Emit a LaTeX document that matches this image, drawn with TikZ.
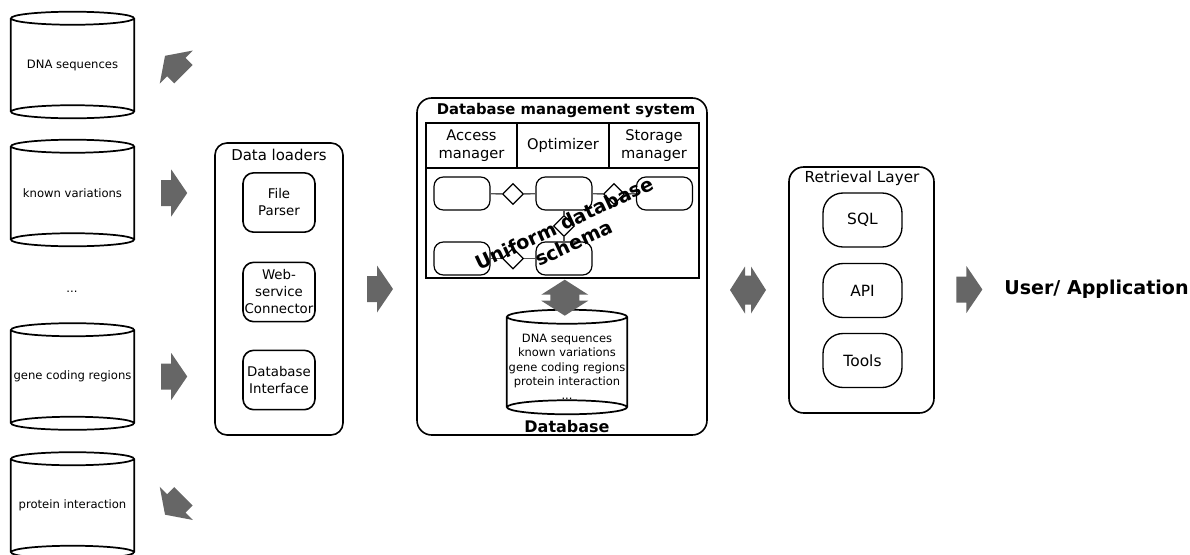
\documentclass[tikz,border=0pt]{standalone}
\usepackage{fontspec}
\setmainfont{DejaVu Sans}
\usepackage{tikz}
\usetikzlibrary{shapes.geometric, calc, positioning}

\definecolor{arrowgray}{HTML}{666666}
\definecolor{linkgray}{HTML}{555555}

% drum outline round a node: both ellipses and the two sides
\newcommand{\drum}[3]{%
	\draw[cylline] (#1.north) ellipse [x radius=#2, y radius=#3]
	(#1.south) ellipse [x radius=#2, y radius=#3]
	(#1.north west) -- (#1.south west)
	(#1.north east) -- (#1.south east);}

\begin{document}
\begin{tikzpicture}[
		x=0.75pt, y=-0.75pt, % one unit = one pixel of the sketch
		cylbody/.style={
				inner sep=0pt,
				minimum width=92.25pt,
				minimum height=69.75pt,
				align=center,
				font=\fontsize{8.7}{10}\selectfont
			},
		cylline/.style={line width=1.3pt},
		group/.style={
				draw,
				line width=1.2pt,
				rounded corners=9pt
			},
		loader/.style={
				draw,
				line width=1.2pt,
				rounded corners=8pt,
				minimum width=54pt,
				minimum height=44.5pt,
				inner sep=1pt,
				align=center,
				font=\fontsize{10}{12.75}\selectfont
			},
		cell/.style={
				draw,
				line width=1pt,
				minimum height=33.75pt,
				inner sep=0pt,
				align=center,
				font=\fontsize{11}{13.5}\selectfont
			},
		entity/.style={
				draw,
				line width=0.9pt,
				rounded corners=7pt,
				minimum width=42pt,
				minimum height=24.75pt
			},
		relation/.style={
				draw,
				diamond,
				fill=white,
				line width=0.9pt,
				minimum size=15.75pt,
				inner sep=0pt
			},
		link/.style={draw=linkgray, line width=1pt},
		query/.style={
				draw,
				line width=1pt,
				rounded corners=15pt,
				minimum width=59.25pt,
				minimum height=40.5pt,
				font=\fontsize{11.6}{14}\selectfont
			},
		fatarrow/.pic={
				\fill[arrowgray] (-13,-13) -- (-3,-13) -- (-3,-23.5) -- (13,0)
				-- (-3,23.5) -- (-3,13) -- (-13,13) -- cycle;
			},
		twoway/.pic={
				\fill[arrowgray] (-18,0) -- (-3,-23.5) -- (-3,-14.5) -- (3,-14.5)
				-- (3,-23.5) -- (18,0) -- (3,23.5) -- (3,14.5) -- (-3,14.5)
				-- (-3,23.5) -- cycle;
			}
	]
	\useasboundingbox (0,0) rectangle (1190,554);

	% Sources
	\node[cylbody] (dna) at (72.5,65) {DNA sequences};
	\node[cylbody] (var) at (72.5,193) {known variations};
	\node[font=\fontsize{8.7}{10}\selectfont] (more) at (72,292) {...};
	\node[cylbody] (gene) at (72.5,376.5) {gene coding regions};
	\node[cylbody] (prot) at (72.5,505.5) {protein interaction};
	\drum{dna}{46.1pt}{4.9pt}
	\drum{var}{46.1pt}{4.9pt}
	\drum{gene}{46.1pt}{4.9pt}
	\drum{prot}{46.1pt}{4.9pt}

	% Data loaders
	\node[group, minimum width=96pt, minimum height=219pt] (loaders) at (279,289) {};
	\node[font=\fontsize{11.2}{13}\selectfont] (loadtitle) at (279,155) {Data loaders};
	\node[loader] (parser) at (279,202.5) {File\\Parser};
	\node[loader] (websvc) at (279,292) {Web-\\service\\Connector};
	\node[loader] (dbiface) at (279,380) {Database\\Interface};

	% Database management system
	\node[group, rounded corners=11pt, minimum width=217.5pt, minimum height=252.75pt] (dbms) at (562,266.5) {};
	\node[font=\fontsize{11.1}{13}\selectfont\bfseries] (dbmstitle) at (566,110) {Database management system};
	\node[cell, minimum width=68.25pt] (access) at (471.5,145.5) {Access\\manager};
	\node[cell, minimum width=69pt] (optim) at (563,145.5) {Optimizer};
	\node[cell, minimum width=67.5pt] (storage) at (654,145.5) {Storage\\manager};
	\node[draw, line width=1pt, minimum width=204.75pt, minimum height=82.5pt] (schema) at (562.5,223) {};

	% Schema sketch
	\node[entity] (ent1) at (462,193.5) {};
	\node[entity] (ent2) at (564,193.5) {};
	\node[entity] (ent3) at (664.5,193.5) {};
	\node[entity] (ent4) at (462,258.5) {};
	\node[entity] (ent5) at (564,258.5) {};
	\node[relation] (rel12) at (513,194) {};
	\node[relation] (rel23) at (614,194) {};
	\node[relation] (rel25) at (564,226) {};
	\node[relation] (rel45) at (513,258.5) {};
	\draw[link] (ent1) -- (rel12);
	\draw[link] (rel12) -- (ent2);
	\draw[link] (ent2) -- (rel23);
	\draw[link] (rel23) -- (ent3);
	\draw[link] (ent2) -- (rel25);
	\draw[link] (rel25) -- (ent5);
	\draw[link] (ent4) -- (rel45);
	\draw[link] (rel45) -- (ent5);
	\node[rotate=25, align=center, font=\fontsize{14.4}{16.5}\selectfont\bfseries] (uniform) at (569,233) {Uniform database\\schema};

	% Database
	\node[inner sep=0pt, minimum width=90pt, minimum height=67.5pt] (dbcyl) at (567,362) {};
	\drum{dbcyl}{45pt}{5.25pt}
	\node[align=center, inner sep=0pt, font=\fontsize{8.6}{10.7}\selectfont] (dbtext) at (567,367)
		{DNA sequences\\known variations\\gene coding regions\\protein interaction\\...};
	\node[font=\fontsize{12}{14}\selectfont\bfseries] (dblabel) at (567,427) {Database};

	% Retrieval layer
	\node[group, rounded corners=11pt, minimum width=108.75pt, minimum height=184.5pt] (retrieval) at (861.5,290) {};
	\node[font=\fontsize{11.4}{13}\selectfont] (rettitle) at (862,178) {Retrieval Layer};
	\node[query] (sql) at (862.5,220) {SQL};
	\node[query] (api) at (862.5,290.5) {API};
	\node[query] (tools) at (862.5,360.5) {Tools};

	\node[anchor=west, inner sep=0pt, font=\fontsize{14.3}{16}\selectfont\bfseries] (user) at (1004,289) {User/ Application};

	% Flow arrows
	\pic[rotate=135] at ($(dna.east)!0.5!(dna.east -| loaders.west)$) {fatarrow};
	\pic at ($(var.east)!0.5!(var.east -| loaders.west)$) {fatarrow};
	\pic at ($(gene.east)!0.5!(gene.east -| loaders.west)$) {fatarrow};
	\pic[rotate=225] at ($(prot.east)!0.5!(prot.east -| loaders.west)$) {fatarrow};
	\pic at ($(loaders.east)!0.5!(loaders.east -| dbms.west)$) {fatarrow};
	\pic[rotate=90] at ($(schema.south)!0.5!(dbcyl.north)$) {twoway};
	\pic at ($(retrieval.west)!0.5!(retrieval.west -| dbms.east)$) {twoway};
	\pic at ($(retrieval.east)!0.5!(user.west)$) {fatarrow};
\end{tikzpicture}
\end{document}
